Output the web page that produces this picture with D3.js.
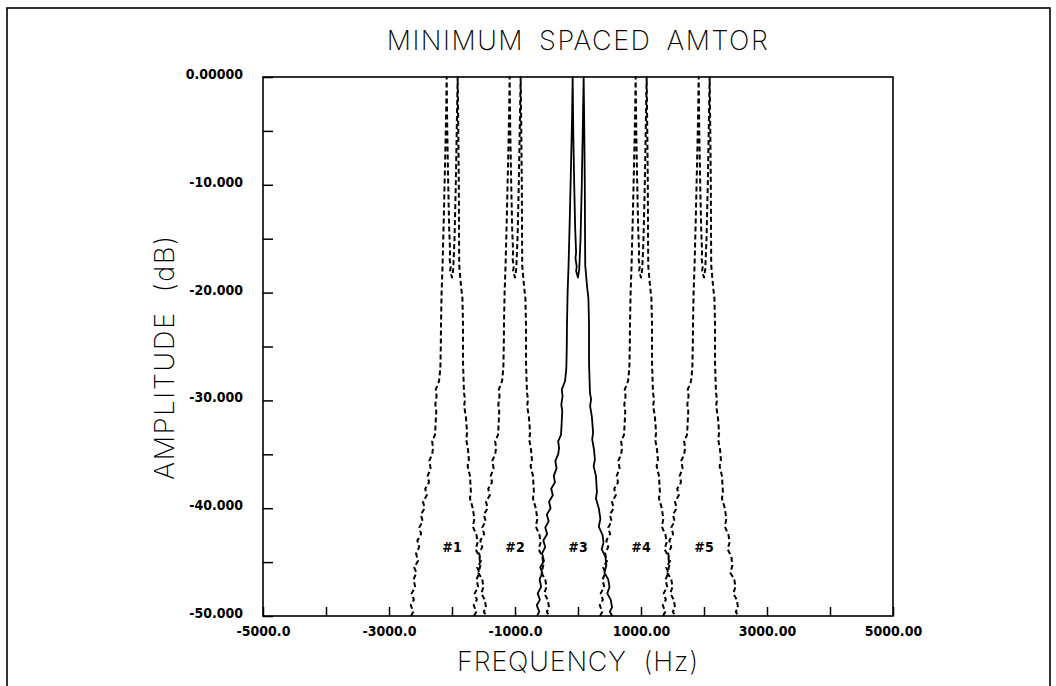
<!DOCTYPE html>
<html>
<head>
<meta charset="utf-8">
<script src="https://cdn.jsdelivr.net/npm/d3@7"></script>
<style>
  html, body { margin: 0; padding: 0; background: #fff; }
  svg { display: block; }
  .tick text { font-family: "DejaVu Sans Condensed", "DejaVu Sans", sans-serif; font-weight: bold; font-size: 14px; fill: #000; }
  .big { font-family: "Inter", "DejaVu Sans", sans-serif; font-weight: 200; fill: #000; }
</style>
</head>
<body>
<div class="container"></div>
<script>
// five AMTOR signals, 1000 Hz apart, #3 drawn solid
var signalCenters = [-2000, -1000, 0, 1000, 2000];
var signalLabels = ["#1", "#2", "#3", "#4", "#5"];
var solidSignal = 2;
var labelDb = -43.6;

// spectrum shape of one signal (offset from centre in Hz, level in dB)
var shapeHz = [-650, -615, -655, -605, -640, -585, -610, -565, -600, -540, -570, -520,
  -550, -490, -520, -465, -495, -435, -460, -400, -425, -365, -385, -340, -360, -315,
  -300, -315, -270, -260, -250, -265, -245, -258, -205, -185, -178, -175, -165, -150,
  -130, -110, -95, -85,
  -75, -60, -45, -30, -40, -20, -30, 0, 20, 40, 60, 75, 90,
  100, 108, 112, 115, 145, 165, 175, 175, 190, 208, 192, 220, 240, 225, 255, 268, 248,
  285, 300, 285, 330, 355, 330, 390, 405, 375, 435, 450, 420, 480, 500, 465, 520, 540,
  505, 545];
var shapeDb = [-50, -49.6, -49, -48.5, -47.9, -47.3, -46.6, -46, -45.5, -44.9, -44.2, -43.6,
  -43, -42.4, -41.8, -41.2, -40.6, -40, -39.4, -38.8, -38.2, -37.6, -37, -36.3, -35.6, -35,
  -34.4, -33.8, -33.2, -32.2, -31, -30.4, -29.6, -29, -28.2, -27, -25, -23, -20, -17.5,
  -13, -8, -4, 0,
  -5, -10, -14, -16.3, -16.8, -17.6, -18, -18.6, -17.8, -15, -10, -5, 0,
  -5, -10, -15, -17.5, -19.5, -20.5, -23, -26.5, -29.3, -29.9, -30.5, -31.5, -33, -33.6, -34.6, -35.5, -36.1,
  -37, -38.5, -39.1, -40, -41, -41.7, -42.5, -43.2, -43.8, -44.5, -45.3, -46, -46.6, -47.3, -47.9, -48.5, -49.2,
  -49.6, -50];

var xTicks = [-5000, -4000, -3000, -2000, -1000, 0, 1000, 2000, 3000, 4000, 5000];
var xLabelled = [-5000, -3000, -1000, 1000, 3000, 5000];
var yTicks = [-50, -45, -40, -35, -30, -25, -20, -15, -10, -5, 0];
var yLabelled = [-50, -40, -30, -20, -10, 0];

const WIDTH = 1056;
const HEIGHT = 686;
const LEFT = 263, RIGHT = 893, TOP = 77, BOTTOM = 616;

var translate = function(x, y){
  return "translate(" + x + "," + y + ")";
};

var xScale = d3.scaleLinear().domain([-5000, 5000]).range([LEFT, RIGHT]);
var yScale = d3.scaleLinear().domain([-50, 0]).range([BOTTOM, TOP]);

var svg = d3.select('.container').append('svg')
  .attr('width', WIDTH)
  .attr('height', HEIGHT);

// page frame
svg.append('rect')
  .attr('x', 7).attr('y', 8)
  .attr('width', 1043).attr('height', 700)
  .attr('fill', 'none').attr('stroke', '#000').attr('stroke-width', 1.6);

svg.append('clipPath').attr('id', 'plot')
  .append('rect')
  .attr('x', LEFT).attr('y', TOP - 1)
  .attr('width', RIGHT - LEFT).attr('height', BOTTOM - TOP + 1);

// axes
var xAxis = d3.axisBottom(xScale)
  .tickValues(xTicks)
  .tickSize(-9)
  .tickPadding(10)
  .tickFormat(function(d){
    if (xLabelled.indexOf(d) < 0) return "";
    return d < 0 ? d.toFixed(1) : d.toFixed(2);
  });

var yAxis = d3.axisLeft(yScale)
  .tickValues(yTicks)
  .tickSize(-10)
  .tickPadding(20)
  .tickFormat(function(d){
    if (yLabelled.indexOf(d) < 0) return "";
    return d === 0 ? "0.00000" : d.toFixed(3);
  });

var gx = svg.append('g').attr('transform', translate(0, BOTTOM)).call(xAxis);
var gy = svg.append('g').attr('transform', translate(LEFT, 0)).call(yAxis);
[gx, gy].forEach(function(g){
  g.select('.domain').remove();
  g.selectAll('.tick line').attr('stroke', '#000').attr('stroke-width', 1.5);
});
gy.selectAll('.tick text').attr('dy', '0.1em');

svg.append('rect')
  .attr('x', LEFT).attr('y', TOP)
  .attr('width', RIGHT - LEFT).attr('height', BOTTOM - TOP)
  .attr('fill', 'none').attr('stroke', '#000').attr('stroke-width', 1.6);

// spectra
var shape = shapeHz.map(function(f, i){ return [f, shapeDb[i]]; });

signalCenters.forEach(function(c, k){
  var line = d3.line()
    .x(function(d){ return xScale(c + d[0]); })
    .y(function(d){ return yScale(d[1]); });
  svg.append('path')
    .datum(shape)
    .attr('clip-path', 'url(#plot)')
    .attr('d', line)
    .attr('fill', 'none')
    .attr('stroke', '#000')
    .attr('stroke-width', k === solidSignal ? 1.8 : 2)
    .attr('stroke-linejoin', 'round')
    .attr('stroke-dasharray', k === solidSignal ? null : '5,3');
});

svg.append('g').selectAll('text')
  .data(signalLabels)
  .enter().append('text')
  .attr('x', function(d, i){ return xScale(signalCenters[i]); })
  .attr('y', yScale(labelDb))
  .attr('dy', '0.35em')
  .attr('text-anchor', 'middle')
  .style('font-family', '"DejaVu Sans Condensed", "DejaVu Sans", sans-serif')
  .style('font-weight', 'bold')
  .style('font-size', '14px')
  .text(function(d){ return d; });

// titles
svg.append('text').attr('class', 'big')
  .attr('x', (LEFT + RIGHT) / 2).attr('y', 50)
  .attr('text-anchor', 'middle')
  .style('font-size', '27px').style('letter-spacing', '1.5px')
  .style('word-spacing', '6px')
  .text('MINIMUM SPACED AMTOR');

svg.append('text').attr('class', 'big')
  .attr('x', (LEFT + RIGHT) / 2).attr('y', 671)
  .attr('text-anchor', 'middle')
  .style('font-size', '27px').style('letter-spacing', '0.8px')
  .attr('xml:space', 'preserve')
  .text('FREQUENCY  (Hz)');

svg.append('text').attr('class', 'big')
  .attr('transform', translate(174, 357) + ' rotate(-90)')
  .attr('text-anchor', 'middle')
  .style('font-size', '27px').style('letter-spacing', '1.8px')
  .attr('xml:space', 'preserve')
  .text('AMPLITUDE  (dB)');
</script>
</body>
</html>
